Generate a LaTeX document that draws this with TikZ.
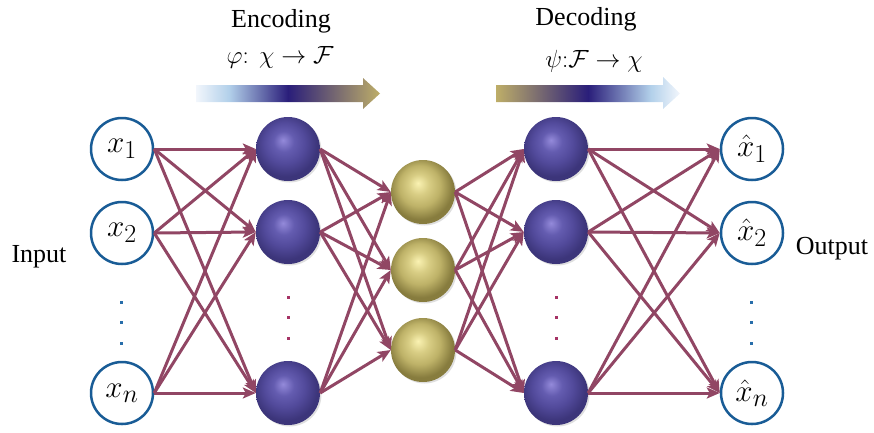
\documentclass[tikz,border=0pt]{standalone}
\usepackage{graphicx}
\usepackage{fontspec}
\setmainfont{Liberation Serif}
\usetikzlibrary{arrows.meta,shadows}
\definecolor{edgec}{RGB}{145,70,100}
\definecolor{ringc}{RGB}{25,92,150}
\definecolor{dotred}{RGB}{165,50,100}
\definecolor{dotblue}{RGB}{40,110,170}
\definecolor{bhl}{RGB}{148,138,218}
\definecolor{bmain}{RGB}{100,92,176}
\definecolor{bmid}{RGB}{82,74,155}
\definecolor{bdark}{RGB}{60,53,122}
\definecolor{yhl}{RGB}{250,242,178}
\definecolor{ymain}{RGB}{216,205,132}
\definecolor{ymid}{RGB}{190,178,104}
\definecolor{ydark}{RGB}{135,124,62}
\definecolor{gwhite}{RGB}{242,246,252}
\definecolor{glblue}{RGB}{178,208,234}
\definecolor{gnavy}{RGB}{42,30,122}
\definecolor{gkhaki}{RGB}{190,174,104}
\pgfdeclareradialshading{bluesphere}{\pgfqpoint{-4bp}{7bp}}{color(0bp)=(bhl); color(8bp)=(bmain); color(16bp)=(bmid); color(25bp)=(bdark); color(50bp)=(bdark)}
\pgfdeclareradialshading{yellowsphere}{\pgfqpoint{-4bp}{7bp}}{color(0bp)=(yhl); color(8bp)=(ymain); color(16bp)=(ymid); color(25bp)=(ydark); color(50bp)=(ydark)}
\pgfdeclarehorizontalshading{encgrad}{100bp}{color(0bp)=(gwhite); color(25bp)=(gwhite); color(34bp)=(glblue); color(50bp)=(gnavy); color(75bp)=(gkhaki); color(100bp)=(gkhaki)}
\pgfdeclarehorizontalshading{decgrad}{100bp}{color(0bp)=(gkhaki); color(25bp)=(gkhaki); color(50bp)=(gnavy); color(67bp)=(glblue); color(75bp)=(gwhite); color(100bp)=(gwhite)}
\newcommand{\iolabel}[1]{\scalebox{1.25}{$#1$}}
\tikzset{
  io/.style={circle,draw=ringc,line width=2.5pt,fill=white,minimum size=62pt,inner sep=0pt,font=\fontsize{24.88}{28}\selectfont},
  sphshadow/.style={drop shadow={opacity=0.25,shadow xshift=1.5pt,shadow yshift=-1.5pt}},
  bsph/.style={circle,shading=bluesphere,minimum size=64pt,inner sep=0pt,sphshadow},
  ysph/.style={circle,shading=yellowsphere,minimum size=64pt,inner sep=0pt,sphshadow},
  edge/.style={draw=edgec,line width=3pt,-{Stealth[length=13pt,width=11pt,inset=3pt]}},
  lbl/.style={font=\fontsize{26}{28}\selectfont,anchor=base},
  mlbl/.style={font=\fontsize{24.88}{28}\selectfont,anchor=base},
  dotr/.style={fill=dotred,minimum size=3pt,inner sep=0pt},
  dotb/.style={fill=dotblue,minimum size=3pt,inner sep=0pt}
}
\begin{document}
\begin{tikzpicture}[x=1pt,y=-1pt]
\useasboundingbox (0,0) rectangle (874,432);
% labels
\node[lbl] (enc) at (281,27) {Encoding};
\node[mlbl] (phi) at (280,63) {$\varphi\colon\ \chi \to \mathcal{F}$};
\node[lbl] (dec) at (586,25) {Decoding};
\node[mlbl] (psi) at (594,67) {$\psi{:}\mathcal{F} \to \chi$};
\node[lbl] (inp) at (39,262) {Input};
\node[lbl] (outp) at (832,254) {Output};
% gradient arrows
\shade[shading=encgrad] (196,85) -- (363,85) -- (363,78) -- (380,93.5) -- (363,109) -- (363,102) -- (196,102) -- cycle;
\shade[shading=decgrad] (496,85) -- (663,85) -- (663,77) -- (680,93.5) -- (663,109) -- (663,102) -- (496,102) -- cycle;
% input nodes
\node[io] (in1) at (122,149) {\iolabel{x_1}};
\node[io] (in2) at (122,233) {\iolabel{x_2}};
\node[io] (in3) at (122,393) {\iolabel{x_n}};
% encoder layer
\node[bsph] (e1) at (288,149) {};
\node[bsph] (e2) at (288,232) {};
\node[bsph] (e3) at (288,393) {};
% latent
\node[ysph] (z1) at (423,192) {};
\node[ysph] (z2) at (423,270) {};
\node[ysph] (z3) at (423,350) {};
% decoder layer
\node[bsph] (d1) at (556,149) {};
\node[bsph] (d2) at (556,232) {};
\node[bsph] (d3) at (556,393) {};
% output nodes
\node[io] (o1) at (752,149) {\iolabel{\hat{x}_1}};
\node[io] (o2) at (752,233) {\iolabel{\hat{x}_2}};
\node[io] (o3) at (752,393) {\iolabel{\hat{x}_n}};
% dots
\foreach \y [count=\i] in {302,322,343} {
  \node[dotb] (ia\i) at (121,\y) {};
  \node[dotb] (ob\i) at (751,\y) {};
}
\foreach \y [count=\i] in {297,317,338} {
  \node[dotr] (ea\i) at (288,\y) {};
  \node[dotr] (da\i) at (556,\y) {};
}
% edges
\foreach \s in {in1,in2,in3} \foreach \t in {e1,e2,e3} \draw[edge] (\s.east) -- (\t.west);
\foreach \s in {e1,e2,e3} \foreach \t in {z1,z2,z3} \draw[edge] (\s.east) -- (\t.west);
\foreach \s in {z1,z2,z3} \foreach \t in {d1,d2,d3} \draw[edge] (\s.east) -- (\t.west);
\foreach \s in {d1,d2,d3} \foreach \t in {o1,o2,o3} \draw[edge] (\s.east) -- (\t.west);
\end{tikzpicture}
\end{document}
